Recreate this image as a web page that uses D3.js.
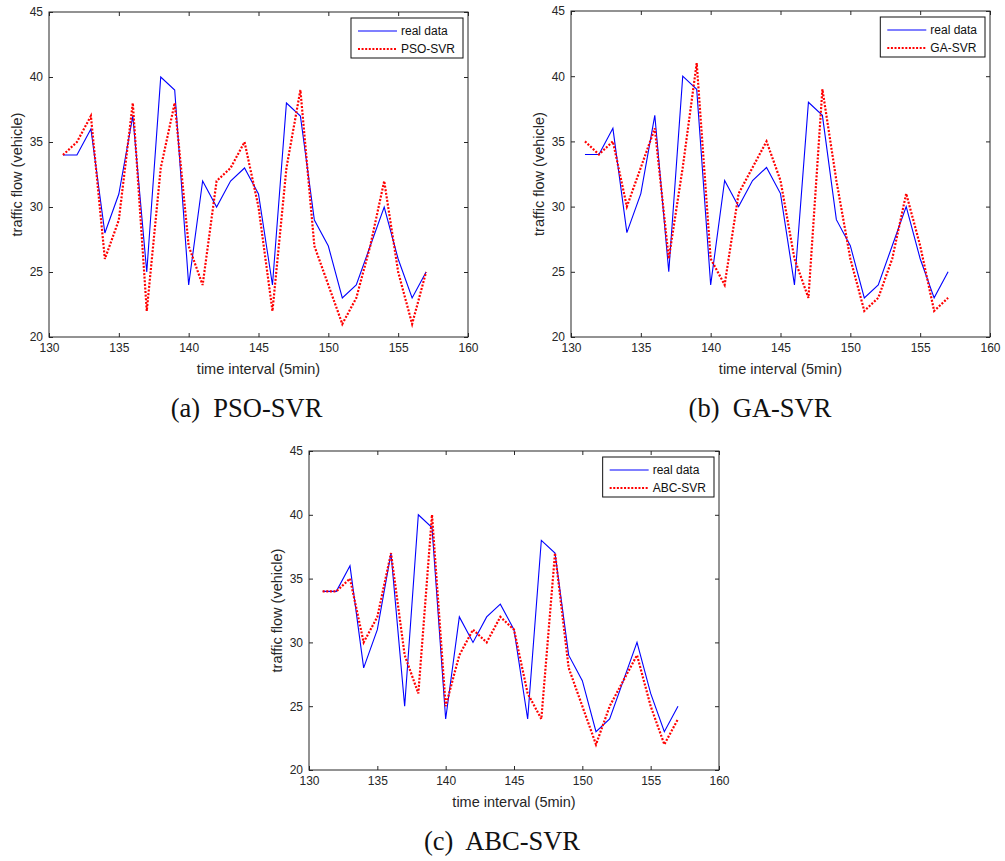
<!DOCTYPE html>
<html>
<head>
<meta charset="utf-8">
<script src="https://cdn.jsdelivr.net/npm/d3@7"></script>
<style>
  html, body { margin: 0; padding: 0; background: #fff; }
  svg { display: block; }
  .tick-label { font-family: "Liberation Sans", Arial, sans-serif; font-size: 12px; fill: #262626; }
  .axis-title { font-family: "Liberation Sans", Arial, sans-serif; font-size: 14.5px; fill: #262626; }
  .legend-text { font-family: "Liberation Sans", Arial, sans-serif; font-size: 12px; fill: #111; }
  .caption { font-family: "Liberation Serif", "Times New Roman", serif; font-size: 26.5px; fill: #111; white-space: pre; }
</style>
</head>
<body>
<svg id="chart" width="1005" height="861"></svg>
<script>
// Time intervals (5 min each) and traffic flow counts
const timeSteps = [131,132,133,134,135,136,137,138,139,140,141,142,143,144,145,146,147,148,149,150,151,152,153,154,155,156,157];
const realData  = [34,34,36,28,31,37,25,40,39,24,32,30,32,33,31,24,38,37,29,27,23,24,27,30,26,23,25];
const psoSvr    = [34,35,37,26,29,38,22,33,38,27,24,32,33,35,30,22,33,39,27,24,21,23,27,32,25,21,25];
const gaSvr     = [35,34,35,30,33,36,26,33,41,26,24,31,33,35,32,26,23,39,32,26,22,23,26,31,27,22,23];
const abcSvr    = [34,34,35,30,32,37,29,26,40,25,29,31,30,32,31,26,24,37,28,25,22,25,27,29,25,22,24];

const xTicks = [130,135,140,145,150,155,160];
const yTicks = [20,25,30,35,40,45];

const panels = [
  { name: "PSO-SVR", pred: psoSvr, caption: "(a)  PSO-SVR", capX: 246.5,
    left: 49,  right: 468, top: 12,  bottom: 337 },
  { name: "GA-SVR",  pred: gaSvr,  caption: "(b)  GA-SVR",  capX: 760,
    left: 571, right: 990, top: 11,  bottom: 337 },
  { name: "ABC-SVR", pred: abcSvr, caption: "(c)  ABC-SVR", capX: 502,
    left: 309, right: 719, top: 451, bottom: 770 }
];

const svg = d3.select("#chart");

function drawPanel(p) {
  const x = d3.scaleLinear().domain([130, 160]).range([p.left, p.right]);
  const y = d3.scaleLinear().domain([20, 45]).range([p.bottom, p.top]);
  const g = svg.append("g");
  const tickLen = 4;

  // four-sided box axes with inward ticks
  const bottomAxis = g.append("g").attr("transform", `translate(0,${p.bottom})`)
    .call(d3.axisBottom(x).tickValues(xTicks).tickSize(-tickLen).tickPadding(6).tickSizeOuter(0));
  const topAxis = g.append("g").attr("transform", `translate(0,${p.top})`)
    .call(d3.axisTop(x).tickValues(xTicks).tickSize(-tickLen).tickSizeOuter(0));
  topAxis.selectAll("text").remove();
  const leftAxis = g.append("g").attr("transform", `translate(${p.left},0)`)
    .call(d3.axisLeft(y).tickValues(yTicks).tickSize(-tickLen).tickPadding(6).tickSizeOuter(0));
  const rightAxis = g.append("g").attr("transform", `translate(${p.right},0)`)
    .call(d3.axisRight(y).tickValues(yTicks).tickSize(-tickLen).tickSizeOuter(0));
  rightAxis.selectAll("text").remove();

  [bottomAxis, topAxis, leftAxis, rightAxis].forEach(a => {
    a.select(".domain").remove();
    a.selectAll("line").attr("stroke", "#262626").attr("stroke-width", 1);
    a.selectAll("text").attr("class", "tick-label").attr("fill", null).attr("font-size", null).attr("font-family", null);
  });

  g.append("rect")
    .attr("x", p.left).attr("y", p.top)
    .attr("width", p.right - p.left).attr("height", p.bottom - p.top)
    .attr("fill", "none").attr("stroke", "#262626").attr("stroke-width", 1);

  const line = d3.line().x((d, i) => x(timeSteps[i])).y(d => y(d));

  g.append("path").datum(realData)
    .attr("d", line).attr("fill", "none")
    .attr("stroke", "#0000ff").attr("stroke-width", 1.1);

  g.append("path").datum(p.pred)
    .attr("d", line).attr("fill", "none")
    .attr("stroke", "#ff0000").attr("stroke-width", 2.2)
    .attr("stroke-dasharray", "2,1.6");

  // axis titles
  g.append("text").attr("class", "axis-title")
    .attr("x", (p.left + p.right) / 2).attr("y", p.bottom + 37)
    .attr("text-anchor", "middle").text("time interval (5min)");
  g.append("text").attr("class", "axis-title")
    .attr("transform", `translate(${p.left - 27},${(p.top + p.bottom) / 2}) rotate(-90)`)
    .attr("text-anchor", "middle").text("traffic flow (vehicle)");

  // legend
  const lg = g.append("g");
  const box = lg.append("rect").attr("fill", "#fff").attr("stroke", "#111").attr("stroke-width", 1);
  const entries = [
    { label: "real data", color: "#0000ff", width: 1.1, dash: null },
    { label: p.name, color: "#ff0000", width: 2.2, dash: "2,1.6" }
  ];
  let maxW = 0;
  entries.forEach((e, i) => {
    const ry = p.top + 19 + i * 18;
    lg.append("line")
      .attr("x1", 0).attr("x2", 39).attr("y1", ry).attr("y2", ry)
      .attr("stroke", e.color).attr("stroke-width", e.width)
      .attr("stroke-dasharray", e.dash);
    const t = lg.append("text").attr("class", "legend-text")
      .attr("x", 43).attr("y", ry + 4).text(e.label);
    maxW = Math.max(maxW, t.node().getComputedTextLength());
  });
  const boxW = 7 + 43 + maxW + 8;
  const boxX = p.right - 5 - boxW;
  lg.selectAll("line").attr("transform", `translate(${boxX + 7},0)`);
  lg.selectAll("text").attr("transform", `translate(${boxX + 7},0)`);
  box.attr("x", boxX).attr("y", p.top + 6).attr("width", boxW).attr("height", 40);

  // caption
  g.append("text").attr("class", "caption")
    .attr("x", p.capX).attr("y", p.bottom + 80)
    .attr("text-anchor", "middle")
    .text(p.caption);
}

panels.forEach(drawPanel);
</script>
</body>
</html>
